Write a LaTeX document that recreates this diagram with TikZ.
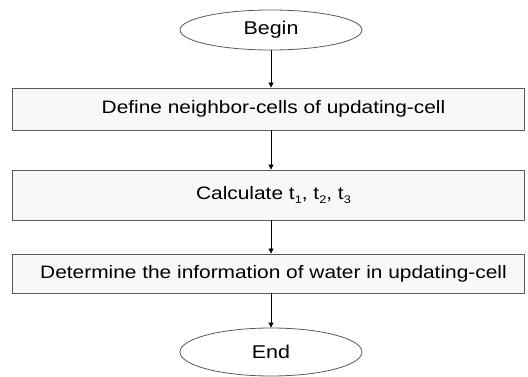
\documentclass[tikz,border=0pt]{standalone}
\usepackage{fontspec}
\setmainfont{Liberation Sans}[FakeStretch=1.16]
\usetikzlibrary{shapes.geometric,arrows.meta}
\definecolor{boxfill}{HTML}{F8F8F8}
\definecolor{edgegray}{HTML}{5A5A5A}
\newcommand{\mysubs}[1]{\raisebox{-4pt}{\fontsize{11}{12}\selectfont #1}}
\newcommand{\mytxtshift}{\hspace*{10pt}}
\tikzset{
  procbox/.style={draw=edgegray, fill=boxfill, line width=0.9pt, rectangle,
    minimum width=512pt, inner sep=0pt, font=\fontsize{18}{20}\selectfont},
  term/.style={draw=edgegray, fill=white, line width=0.8pt, ellipse, inner sep=0pt,
    minimum width=182pt, font=\fontsize{18.5}{20}\selectfont},
  flow/.style={draw=black, line width=0.8pt, -{Triangle[length=5pt,width=5pt]}}
}
\begin{document}
\begin{tikzpicture}[x=1pt,y=-1pt]
\useasboundingbox (0,0) rectangle (528,377);
\fill[white] (0,0) rectangle (528,377);
\node[term, minimum height=40pt] (begin) at (271,30) {Begin};
\node[procbox, minimum height=42pt] (b1) at (268.5,109) {\mytxtshift Define neighbor-cells of updating-cell};
\node[procbox, minimum height=50pt] (b2) at (268.5,195) {\mytxtshift Calculate t\mysubs{1}, t\mysubs{2}, t\mysubs{3}};
\node[procbox, minimum height=39pt] (b3) at (268.5,273.5) {\mytxtshift Determine the information of water in updating-cell};
\node[term, minimum height=48pt] (end) at (271,352) {End};
\draw[flow] (begin.south) -- (begin.south |- b1.north);
\draw[flow] (begin.south |- b1.south) -- (begin.south |- b2.north);
\draw[flow] (begin.south |- b2.south) -- (begin.south |- b3.north);
\draw[flow] (begin.south |- b3.south) -- (end.north);
\end{tikzpicture}
\end{document}
